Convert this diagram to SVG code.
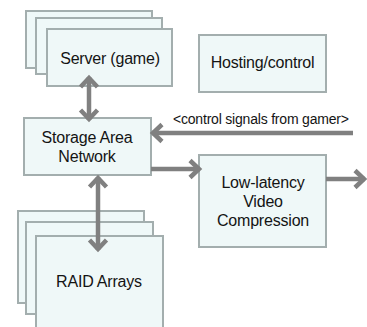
<svg xmlns="http://www.w3.org/2000/svg" width="367" height="327" viewBox="0 0 367 327">
  <style>
    .box { fill: #eff8f8; stroke: #a3aeae; stroke-width: 2; }
    .lbl { font-family: "Liberation Sans", Arial, sans-serif; font-size: 16px; fill: #141414; text-anchor: middle; letter-spacing: -0.2px; }
    .sig { font-family: "Liberation Sans", Arial, sans-serif; font-size: 14px; fill: #141414; letter-spacing: -0.2px; }
    .conn { stroke: #808080; stroke-width: 4.5; fill: none; }
  </style>
  <defs>
    <marker id="head" markerUnits="userSpaceOnUse" orient="auto-start-reverse" refX="0" refY="0" markerWidth="20" markerHeight="20" overflow="visible">
      <path d="M-10,-8.5 L-1,0 L-10,8.5" fill="none" stroke="#808080" stroke-width="4.5" stroke-linejoin="miter"/>
    </marker>
  </defs>
  <rect width="367" height="327" fill="#ffffff"/>

  <!-- game servers (stacked) -->
  <g id="server">
    <rect class="box" x="26" y="11" width="126" height="57"/>
    <rect class="box" x="36" y="18" width="126" height="56"/>
    <rect class="box" x="47" y="29" width="125" height="57"/>
    <text class="lbl" x="110" y="64">Server (game)</text>
  </g>

  <g id="hosting">
    <rect class="box" x="199" y="35" width="127" height="57"/>
    <text class="lbl" x="262.5" y="68">Hosting/control</text>
  </g>

  <g id="san">
    <rect class="box" x="24" y="118" width="127" height="57"/>
    <text class="lbl" x="87" y="143">Storage Area</text>
    <text class="lbl" x="87" y="162">Network</text>
  </g>

  <g id="compression">
    <rect class="box" x="199" y="155" width="127" height="92"/>
    <text class="lbl" x="263" y="188">Low-latency</text>
    <text class="lbl" x="263" y="207">Video</text>
    <text class="lbl" x="263" y="226">Compression</text>
  </g>

  <!-- RAID arrays (stacked) -->
  <g id="raid">
    <rect class="box" x="18" y="211" width="126" height="92"/>
    <rect class="box" x="26" y="222" width="127" height="92"/>
    <rect class="box" x="36" y="236" width="127" height="100"/>
    <text class="lbl" x="99" y="287">RAID Arrays</text>
  </g>

  <g id="connectors">
    <line class="conn" x1="89" y1="77" x2="89" y2="120" marker-start="url(#head)" marker-end="url(#head)"/>
    <line class="conn" x1="98" y1="177" x2="98" y2="250" marker-start="url(#head)" marker-end="url(#head)"/>
    <line class="conn" x1="353" y1="133" x2="152" y2="133" marker-end="url(#head)"/>
    <line class="conn" x1="151" y1="169" x2="200" y2="169" marker-end="url(#head)"/>
    <line class="conn" x1="326" y1="179" x2="365" y2="179" marker-end="url(#head)"/>
    <text class="sig" x="173" y="124">&lt;control signals from gamer&gt;</text>
  </g>
</svg>
